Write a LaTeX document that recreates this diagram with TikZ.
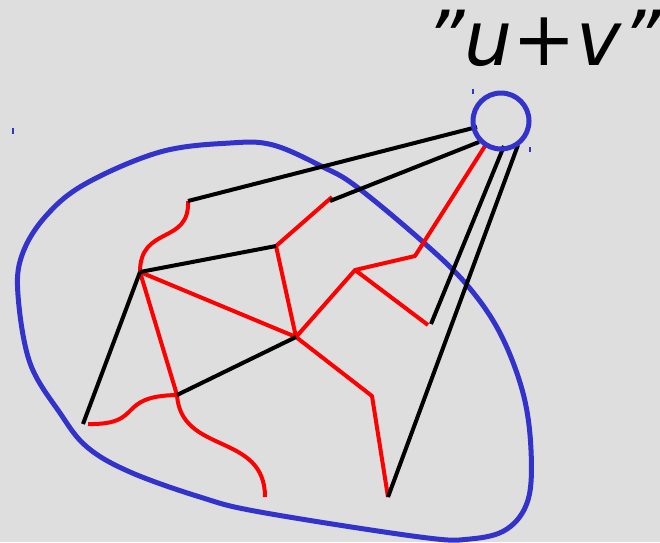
\documentclass[tikz,border=0pt]{standalone}
\usepackage{fontspec}
\newfontfamily\labfont{DejaVu Sans}
\definecolor{bg}{HTML}{DEDEDE}
\definecolor{blob}{HTML}{3333CC}
\definecolor{redl}{HTML}{FF0000}
\begin{document}
\begin{tikzpicture}[x=1pt,y=-1pt,
  blk/.style={draw=black,line width=4pt},
  rd/.style={draw=redl,line width=4pt,line join=round},
  bl/.style={draw=blob,line width=5pt},
  tick/.style={draw=blob,line width=1.2pt}]
\fill[bg] (0,0) rectangle (660,542);
\useasboundingbox (0,0) rectangle (660,542);
% coordinates
\coordinate (A) at (188,201);
\coordinate (A1) at (477,127);
\coordinate (C) at (330,201);
\coordinate (C1) at (479,142);
\coordinate (E) at (431,324);
\coordinate (E1) at (504,146);
\coordinate (G) at (388,497);
\coordinate (G1) at (518,145);
\coordinate (P) at (140,272);
\coordinate (Q) at (276,246);
\coordinate (Qr) at (332,197);
\coordinate (R) at (296,337);
\coordinate (S) at (177,395);
\coordinate (T) at (83,424);
\coordinate (Tr) at (88,424);
\coordinate (U) at (355,270);
\coordinate (V) at (415,256);
\coordinate (W) at (485,146);
\coordinate (X) at (428,325);
\coordinate (Y) at (372,396);
\coordinate (Z) at (265,497);
% blob
\draw[bl] plot[smooth cycle,tension=0.6] coordinates {
 (230,143) (273,145) (323,167) (357,187) (423,242) (467,285) (500,333)
 (523,393) (531,450) (528,500) (507,529) (470,539) (420,537) (260,512)
 (200,497) (130,472) (87,447) (60,413) (30,363) (18,295) (22,255)
 (45,217) (85,184) (160,152)};
% red lines
\draw[rd] (A) .. controls (190,245) and (140,225) .. (P);
\draw[rd] (P) -- (R);
\draw[rd] (P) -- (S) .. controls (181,455) and (265,432) .. (Z);
\draw[rd] (Tr) .. controls (145,425) and (115,396) .. (S);
\draw[rd] (Qr) -- (Q) -- (R) -- (U) -- (V) -- (W);
\draw[rd] (U) -- (X);
\draw[rd] (R) -- (Y) -- (G);
% black lines
\draw[blk] (A) -- (A1);
\draw[blk] (C) -- (C1);
\draw[blk] (E) -- (E1);
\draw[blk] (G) -- (G1);
\draw[blk] (P) -- (Q);
\draw[blk] (P) -- (T);
\draw[blk] (S) -- (R);
% circle
\node[draw=blob,line width=5pt,circle,minimum size=56pt,inner sep=0pt] (uv) at (501,121) {};
% label
\node[anchor=base west,inner sep=0pt] (lab) at (425,65) {\labfont\itshape\fontsize{76}{76}\selectfont ”u+v”};
% small ticks
\draw[tick] (473,89) -- (473,94);
\draw[tick] (530,147) -- (530,152);
\draw[tick] (13,128) -- (13,134);
\end{tikzpicture}
\end{document}
